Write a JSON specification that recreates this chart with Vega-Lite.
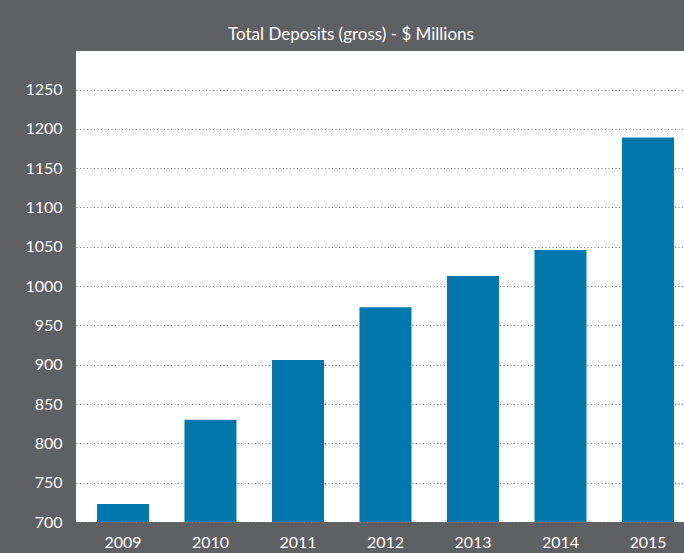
{
  "$schema": "https://vega.github.io/schema/vega-lite/v6.json",
  "width": 608,
  "height": 471,
  "autosize": {"type": "none"},
  "padding": {"left": 76, "top": 51, "right": 0, "bottom": 31},
  "background": "#5f6062",
  "title": {
    "text": "Total Deposits (gross) - $ Millions",
    "color": "#ffffff",
    "font": "Lato",
    "fontSize": 17,
    "fontWeight": "normal",
    "anchor": "middle",
    "baseline": "alphabetic",
    "offset": -6,
    "dx": -29
  },
  "config": {
    "view": {"fill": "#ffffff", "stroke": null},
    "axis": {"labelFont": "Lato", "labelFontSize": 16, "labelColor": "#ffffff"}
  },
  "data": {
    "values": [
      {"year": "2009", "deposits": 723},
      {"year": "2010", "deposits": 830},
      {"year": "2011", "deposits": 906},
      {"year": "2012", "deposits": 973},
      {"year": "2013", "deposits": 1013},
      {"year": "2014", "deposits": 1046},
      {"year": "2015", "deposits": 1189}
    ]
  },
  "mark": {"type": "bar", "color": "#0077ad", "clip": true},
  "encoding": {
    "x": {
      "field": "year",
      "type": "ordinal",
      "scale": {"paddingInner": 0.406, "paddingOuter": 0.177, "align": 0.677},
      "axis": {
        "title": null,
        "labelAngle": 0,
        "ticks": false,
        "domain": false,
        "labelPadding": 12,
        "labelBaseline": "top"
      }
    },
    "y": {
      "field": "deposits",
      "type": "quantitative",
      "scale": {"domain": [700, 1299], "nice": false, "zero": false},
      "axis": {
        "title": null,
        "format": "d",
        "values": [700, 750, 800, 850, 900, 950, 1000, 1050, 1100, 1150, 1200, 1250],
        "ticks": false,
        "domain": false,
        "labelPadding": 14,
        "grid": true,
        "gridColor": "#777777",
        "gridDash": [1, 2.5],
        "gridWidth": 1
      }
    }
  }
}
